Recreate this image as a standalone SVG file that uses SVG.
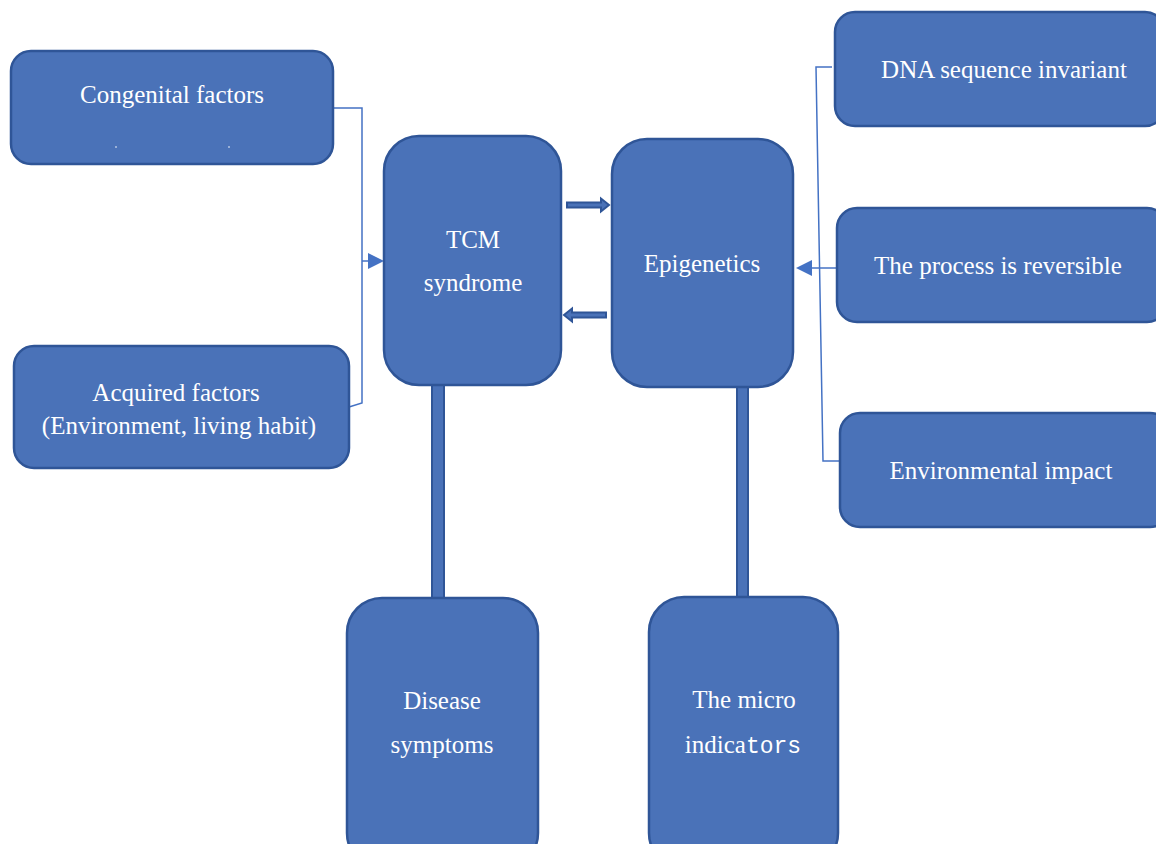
<svg xmlns="http://www.w3.org/2000/svg" width="1156" height="844" viewBox="0 0 1156 844">
<defs>
<style>
.box{fill:#4A72B8;stroke:#2F5597;stroke-width:2.5}
.bar{fill:#4A72B8;stroke:#2F5597;stroke-width:2}
.t{font-family:"Liberation Serif","Times New Roman",serif;font-size:25px;fill:#FFFFFF;text-anchor:middle}
.ln{fill:none;stroke:#4472C4;stroke-width:1.5}
.blk{fill:#4A72B8;stroke:#2F5597;stroke-width:2}
</style>
</defs>
<rect width="1156" height="844" fill="#FFFFFF"/>
<g id="connectors">
<rect class="bar" x="432" y="385" width="12" height="214"/>
<rect class="bar" x="737" y="387" width="11" height="211"/>
<polyline class="ln" points="333,108 362,108 362,403 349,407"/>
<line x1="362" y1="261" x2="368" y2="261" class="ln"/>
<path d="M368,253 L384,261 L368,269 Z" fill="#4472C4"/>
<polyline class="ln" points="832,67 816,67 823,461 840,461"/>
<line x1="837" y1="268" x2="812" y2="268" class="ln"/>
<path d="M812,260 L796,268 L812,276 Z" fill="#4472C4"/>
<path class="blk" d="M567,202.5 L601,202.5 L601,198.5 L609,205 L601,211.5 L601,207.5 L567,207.5 Z"/>
<path class="blk" d="M606,312.5 L572,312.5 L572,308.5 L564,315 L572,321.5 L572,317.5 L606,317.5 Z"/>
</g>
<g id="congenital">
<rect class="box" x="11" y="51" width="322" height="113" rx="20"/>
<text class="t" x="172" y="103">Congenital factors</text>
<circle cx="116" cy="147" r="0.8" fill="#FFFFFF"/>
<circle cx="229" cy="147" r="0.8" fill="#FFFFFF"/>
</g>
<g id="acquired">
<rect class="box" x="14" y="346" width="335" height="122" rx="20"/>
<text class="t" x="176" y="401">Acquired factors</text>
<text class="t" x="179" y="434">(Environment, living habit)</text>
</g>
<g id="tcm">
<rect class="box" x="384" y="136" width="177" height="249" rx="35"/>
<text class="t" x="473" y="248">TCM</text>
<text class="t" x="473" y="291">syndrome</text>
</g>
<g id="epigenetics">
<rect class="box" x="612" y="139" width="181" height="248" rx="35"/>
<text class="t" x="702" y="272">Epigenetics</text>
</g>
<g id="dna">
<rect class="box" x="835" y="12" width="330" height="114" rx="20"/>
<text class="t" x="1004" y="78">DNA sequence invariant</text>
</g>
<g id="reversible">
<rect class="box" x="837" y="208" width="330" height="114" rx="20"/>
<text class="t" x="998" y="274">The process is reversible</text>
</g>
<g id="environmental">
<rect class="box" x="840" y="413" width="330" height="114" rx="20"/>
<text class="t" x="1001" y="479">Environmental impact</text>
</g>
<g id="disease">
<rect class="box" x="347" y="598" width="191" height="270" rx="35"/>
<text class="t" x="442" y="709">Disease</text>
<text class="t" x="442" y="753">symptoms</text>
</g>
<g id="micro">
<rect class="box" x="649" y="597" width="189" height="271" rx="35"/>
<text class="t" x="744" y="708">The micro</text>
<text class="t" x="743" y="753">indica<tspan style="font-family:'Liberation Mono','DejaVu Sans Mono',monospace;font-size:23px">tors</tspan></text>
</g>
</svg>
